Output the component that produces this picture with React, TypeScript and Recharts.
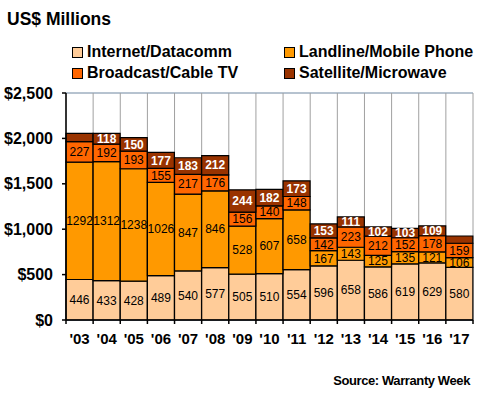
import { BarChart, Bar, XAxis, YAxis, CartesianGrid, LabelList, ReferenceLine } from 'recharts';

const years = ["'03", "'04", "'05", "'06", "'07", "'08", "'09", "'10", "'11", "'12", "'13", "'14", "'15", "'16", "'17"];
const internet = [446, 433, 428, 489, 540, 577, 505, 510, 554, 596, 658, 586, 619, 629, 580];
const landline = [1292, 1312, 1238, 1026, 847, 846, 528, 607, 658, 167, 143, 125, 135, 121, 106];
const broadcast = [227, 192, 193, 155, 217, 176, 156, 140, 148, 142, 223, 212, 152, 178, 159];
const satellite = [90, 118, 150, 177, 183, 212, 244, 182, 173, 153, 111, 102, 103, 109, 80];

const majorTicks = [0, 500, 1000, 1500, 2000, 2500];
const minorTicks = Array.from({ length: 26 }, (_, i) => i * 100);

const series = [
  { key: 'internet', name: 'Internet/Datacomm', color: '#FFCC99' },
  { key: 'landline', name: 'Landline/Mobile Phone', color: '#FF9900' },
  { key: 'broadcast', name: 'Broadcast/Cable TV', color: '#FF6600' },
  { key: 'satellite', name: 'Satellite/Microwave', color: '#993300' },
];

const data = years.map((year, i) => ({
  year,
  internet: internet[i],
  landline: landline[i],
  broadcast: broadcast[i],
  satellite: satellite[i],
}));

const FONT = '"Liberation Sans", Arial, sans-serif';
const TICK_GAP = 13;

// Excel hides the labels of the thinnest top segments
const hideSmall = (v: number) => (v >= 100 ? v : '');

// category label plus the tick marks Excel puts between categories
function YearTick(props: any) {
  const { x, y, payload, index, width, visibleTicksCount } = props;
  const band = width / visibleTicksCount;
  const top = y - TICK_GAP;
  return (
    <g>
      <line x1={x - band / 2} x2={x - band / 2} y1={top} y2={top + 4} stroke="#000" strokeWidth={1.5} />
      {index === visibleTicksCount - 1 && (
        <line x1={x + band / 2} x2={x + band / 2} y1={top} y2={top + 4} stroke="#000" strokeWidth={1.5} />
      )}
      <text x={x} y={y} dy="0.71em" textAnchor="middle" fill="#000" fontSize={15} fontWeight={700} fontFamily={FONT}>
        {payload.value}
      </text>
    </g>
  );
}

const categoryBounds = ({ offset }: any) =>
  years.map((_, i) => offset.left + (i * offset.width) / years.length).concat(offset.left + offset.width);

export default function App() {
  return (
    <div style={{ position: 'absolute', left: 0, top: 0, width: 480, height: 400, background: '#fff', fontFamily: FONT }}>
      <div style={{ position: 'absolute', left: 7, top: 9, fontSize: 17.5, fontWeight: 700, color: '#000' }}>US$ Millions</div>

      {series.map((s, i) => (
        <div
          key={s.key}
          style={{
            position: 'absolute',
            left: i % 2 === 0 ? 72 : 284,
            top: i < 2 ? 43 : 64,
            display: 'flex',
            alignItems: 'center',
            fontSize: 16,
            fontWeight: 700,
            whiteSpace: 'nowrap',
          }}
        >
          <span style={{ display: 'inline-block', width: 9, height: 9, background: s.color, border: '1px solid #000', marginRight: 4 }} />
          {s.name}
        </div>
      ))}

      <div style={{ position: 'absolute', right: 10, top: 373, fontSize: 13, fontWeight: 700, letterSpacing: '-0.4px' }}>
        Source: Warranty Week
      </div>

      <BarChart
        width={480}
        height={400}
        data={data}
        margin={{ top: 93, right: 7, bottom: 0, left: 0 }}
        barCategoryGap={0}
        barGap={0}
        style={{ position: 'absolute', left: 0, top: 0 }}
      >
        <CartesianGrid yAxisId="minor" vertical={false} stroke="#99CCFF" strokeWidth={1} />
        <CartesianGrid
          yAxisId="minor"
          horizontal={false}
          verticalCoordinatesGenerator={categoryBounds}
          stroke="#A0A0A0"
          strokeWidth={1}
        />
        <XAxis
          dataKey="year"
          height={80}
          interval={0}
          axisLine={{ stroke: '#000', strokeWidth: 1.5 }}
          tickLine={false}
          tickSize={0}
          tickMargin={TICK_GAP}
          tick={YearTick}
        />
        <YAxis
          domain={[0, 2500]}
          ticks={majorTicks}
          interval={0}
          width={66}
          tickSize={4}
          tickMargin={9}
          tickFormatter={(v: number) => `$${v.toLocaleString('en-US')}`}
          axisLine={{ stroke: '#000', strokeWidth: 1.5 }}
          tickLine={{ stroke: '#000', strokeWidth: 1.5 }}
          tick={{ fill: '#000', fontSize: 16, fontWeight: 700, fontFamily: FONT }}
        />
        <YAxis
          yAxisId="minor"
          domain={[0, 2500]}
          ticks={minorTicks}
          interval={0}
          mirror
          width={0}
          tick={false}
          tickSize={4}
          axisLine={false}
          tickLine={{ stroke: '#000', strokeWidth: 1 }}
        />
        <ReferenceLine y={2500} stroke="#A0A0A0" strokeWidth={1} />
        {series.map((s) => (
          <Bar
            key={s.key}
            dataKey={s.key}
            name={s.name}
            stackId="a"
            fill={s.color}
            stroke="#000"
            strokeWidth={1.2}
            isAnimationActive={false}
          >
            <LabelList
              dataKey={s.key}
              position="center"
              formatter={s.key === 'satellite' ? hideSmall : undefined}
              fill={s.key === 'satellite' ? '#fff' : '#000'}
              stroke="none"
              fontSize={12}
              fontWeight={s.key === 'satellite' ? 700 : 400}
              fontFamily={FONT}
            />
          </Bar>
        ))}
      </BarChart>
    </div>
  );
}
